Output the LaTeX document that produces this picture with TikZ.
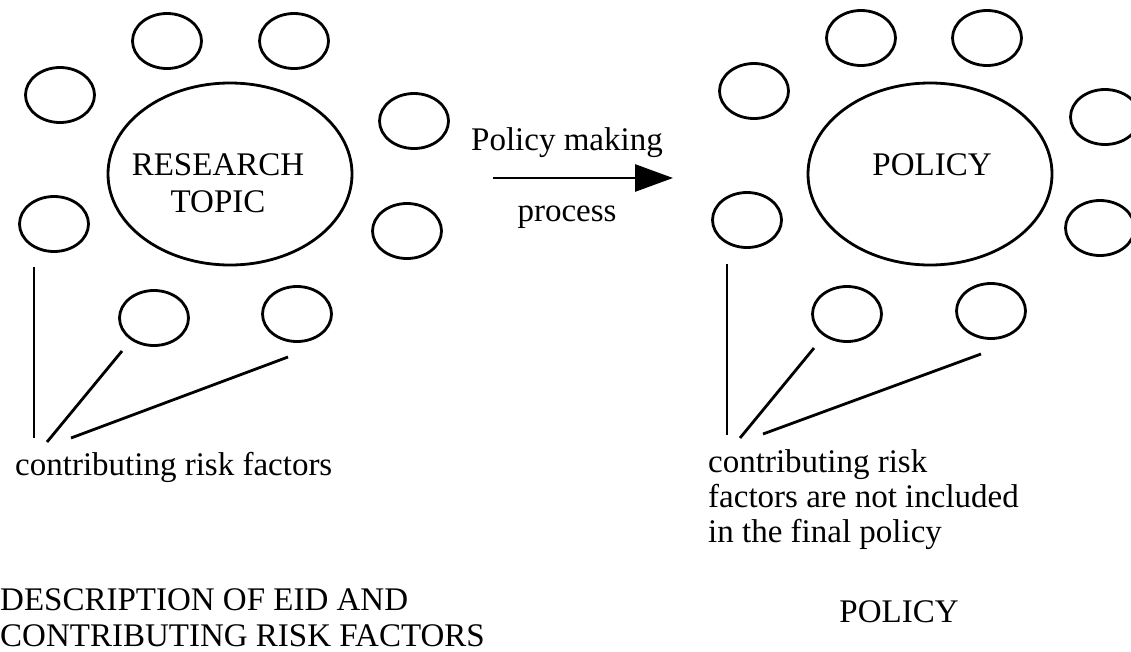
\documentclass[tikz,border=0pt]{standalone}
\usepackage{fontspec}
\setmainfont{Liberation Serif}
\usetikzlibrary{shapes.geometric,arrows.meta}
\begin{document}
\begin{tikzpicture}[x=1pt,y=-1pt,
  small/.style={draw, ellipse, line width=2.8pt, minimum width=69pt, minimum height=55pt, inner sep=0pt},
  big/.style={draw, ellipse, line width=2.8pt, minimum width=244pt, minimum height=182pt, inner sep=0pt},
  lbl/.style={font=\fontsize{33}{35}\selectfont, inner sep=0pt},
  conn/.style={line width=2.8pt}]
\useasboundingbox (0,0) rectangle (1131,651);

% ---------- left group ----------
\node[big] (rt) at (230,174) {};
\node[lbl, anchor=base] (rtxt) at (218,175)
  {\fontsize{33}{37}\selectfont\begin{tabular}[t]{@{}c@{}}RESEARCH\\TOPIC\end{tabular}};
\node[small] (a1) at (167,41) {};
\node[small] (a2) at (294,41) {};
\node[small] (a3) at (60,95) {};
\node[small] (a4) at (414,121) {};
\node[small] (a5) at (54,224) {};
\node[small] (a6) at (407,231) {};
\node[small] (a7) at (154,318) {};
\node[small] (a8) at (297,314) {};

\coordinate (la1) at (34,267);  \coordinate (la2) at (34,438);
\coordinate (lb1) at (122,351); \coordinate (lb2) at (47,442);
\coordinate (lc1) at (288,357); \coordinate (lc2) at (71,438);
\draw[conn] (la1) -- (la2);
\draw[conn] (lb1) -- (lb2);
\draw[conn] (lc1) -- (lc2);
\node[lbl, anchor=base west] (crf) at (15,475) {contributing risk factors};

% ---------- arrow ----------
\coordinate (arrS) at (493,178);
\coordinate (arrE) at (673,178);
\draw[conn, -{Triangle[length=38pt,width=27pt]}] (arrS) -- (arrE);
\node[lbl, anchor=base] (pm) at (567,150) {Policy making};
\node[lbl, anchor=base] (proc) at (567,221) {process};

% ---------- right group ----------
\node[big] (pol) at (930,174) {};
\node[lbl, anchor=base] (poltxt) at (932,175) {POLICY};
\node[small] (b1) at (861,38) {};
\node[small] (b2) at (987,38) {};
\node[small] (b3) at (754,91) {};
\node[small] (b4) at (1105,117) {};
\node[small] (b5) at (747,220) {};
\node[small] (b6) at (1100,228) {};
\node[small] (b7) at (847,314) {};
\node[small] (b8) at (991,311) {};

\coordinate (ra1) at (727,264); \coordinate (ra2) at (727,435);
\coordinate (rb1) at (814,348); \coordinate (rb2) at (740,438);
\coordinate (rc1) at (981,354); \coordinate (rc2) at (763,434);
\draw[conn] (ra1) -- (ra2);
\draw[conn] (rb1) -- (rb2);
\draw[conn] (rc1) -- (rc2);
\node[lbl, anchor=base west] (ncl) at (708,472)
  {\begin{tabular}[t]{@{}l@{}}contributing risk\\factors are not included\\in the final policy\end{tabular}};

% ---------- bottom captions ----------
\node[lbl, anchor=base west] (capL) at (0,610)
  {\fontsize{33}{36}\selectfont\begin{tabular}[t]{@{}l@{}}DESCRIPTION OF EID AND\\CONTRIBUTING RISK FACTORS\end{tabular}};
\node[lbl, anchor=base] (capR) at (899,622) {POLICY};
\end{tikzpicture}
\end{document}
